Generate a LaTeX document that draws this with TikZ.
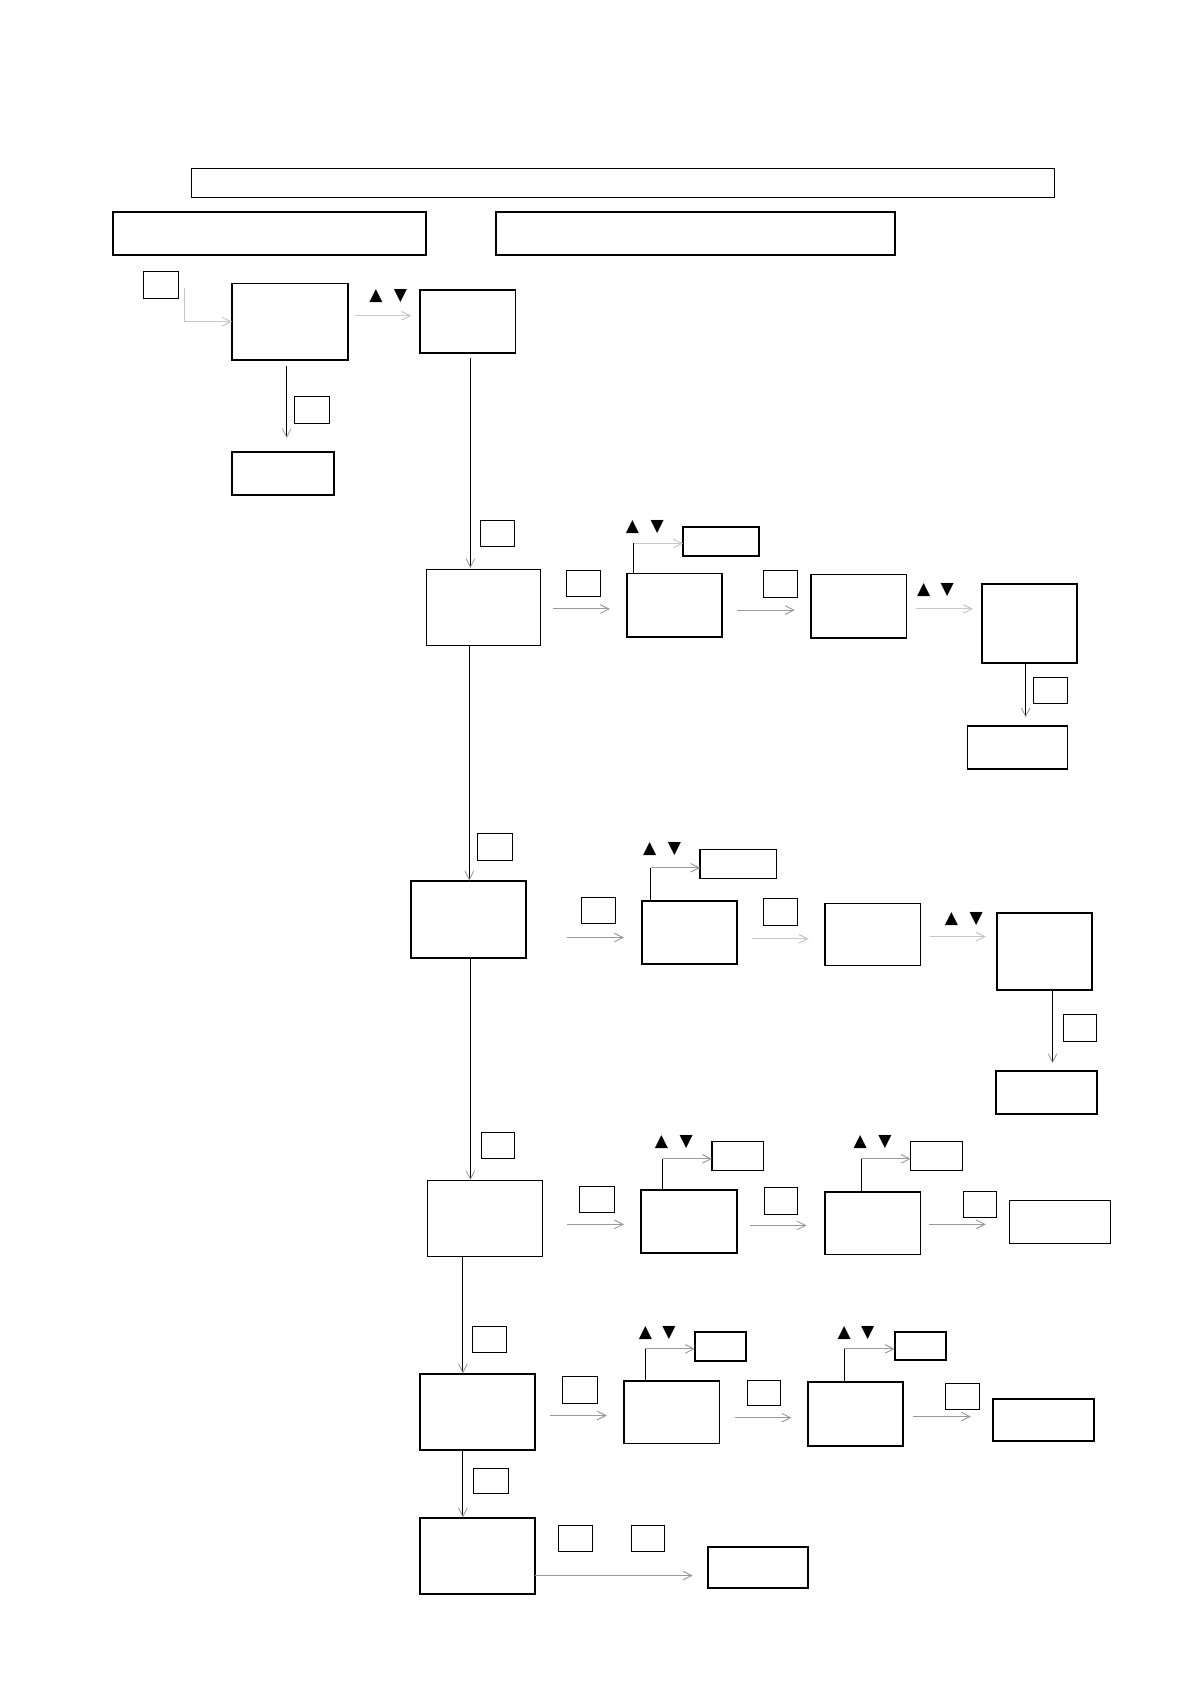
\documentclass[tikz,border=0pt]{standalone}
\usepackage{fontspec}
\newfontfamily\dvsans{DejaVu Sans}
\usetikzlibrary{arrows.meta}
\definecolor{hgray}{HTML}{9A9A9A}
\definecolor{lgray}{HTML}{C8C8C8}
\newcommand\mybox[6]{\node[#1, anchor=north west, minimum width={(#5-#3)*1pt}, minimum height={(#6-#4)*1pt}] (#2) at (#3,#4) {};}
\begin{document}
\begin{tikzpicture}[x=1pt,y=-1pt,
  bk/.style={draw, line width=1.8pt, inner sep=0pt, outer sep=0pt},
  bt/.style={draw, line width=1.3pt, inner sep=0pt, outer sep=0pt},
  sk/.style={draw, line width=0.9pt, inner sep=0pt, outer sep=0pt},
  vline/.style={draw=black, line width=0.8pt},
  varrow/.style={vline, -{Straight Barb[length=8pt,width=8pt,color=hgray]}},
  harrow/.style={draw=hgray, line width=0.9pt, -{Straight Barb[length=8pt,width=8pt]}},
  larrow/.style={draw=lgray, line width=1pt, -{Straight Barb[length=8pt,width=8pt]}},
  tri/.style={font=\dvsans\fontsize{16}{16}\selectfont, inner sep=0pt}]
\useasboundingbox (0,0) rectangle (1109,1568);
% headers
\mybox{sk}{top}{178}{157}{982}{184}
\mybox{bk}{H1}{105}{197}{397}{237}
\mybox{bk}{H2}{462}{197}{833}{237}
% row A
\mybox{sk}{s0}{134}{253}{166}{278}
\mybox{bk}{A1}{216}{264}{324}{335}
\mybox{bk}{A2}{391}{270}{480}{329}
\mybox{sk}{sA}{274}{369}{307}{394}
\mybox{bk}{A3}{216}{421}{311}{461}
% row B
\mybox{sk}{sB0}{447}{485}{479}{509}
\mybox{bt}{B1}{397}{530}{503}{601}
\mybox{sk}{sB1}{527}{531}{559}{555}
\mybox{bk}{B2}{584}{534}{672}{593}
\mybox{bk}{B2a}{636}{491}{707}{518}
\mybox{sk}{sB2}{711}{531}{743}{556}
\mybox{bt}{B3}{755}{535}{844}{594}
\mybox{bk}{B4}{914}{544}{1003}{617}
\mybox{sk}{sB4}{962}{631}{994}{655}
\mybox{bt}{B5}{901}{676}{994}{716}
% row C
\mybox{sk}{sC0}{445}{776}{477}{801}
\mybox{bk}{C1}{383}{820}{490}{892}
\mybox{sk}{sC1}{541}{836}{573}{860}
\mybox{bk}{C2}{598}{839}{686}{898}
\mybox{bk}{C2a}{652}{791}{723}{818}
\mybox{sk}{sC2}{711}{837}{743}{862}
\mybox{bt}{C3}{768}{841}{857}{899}
\mybox{bk}{C4}{928}{850}{1017}{922}
\mybox{sk}{sC4}{990}{945}{1021}{970}
\mybox{bk}{C5}{927}{997}{1021}{1037}
% row D
\mybox{sk}{sD0}{448}{1054}{479}{1079}
\mybox{bt}{D1}{398}{1099}{505}{1170}
\mybox{sk}{sD1}{540}{1105}{572}{1129}
\mybox{bk}{D2}{597}{1108}{686}{1167}
\mybox{bt}{D2a}{663}{1063}{711}{1090}
\mybox{sk}{sD2}{712}{1106}{743}{1131}
\mybox{bt}{D3}{768}{1110}{857}{1168}
\mybox{bt}{D3a}{848}{1063}{896}{1090}
\mybox{sk}{sD3}{897}{1109}{928}{1134}
\mybox{bt}{D4}{940}{1118}{1034}{1158}
% row E
\mybox{sk}{sE0}{440}{1235}{472}{1259}
\mybox{bk}{E1}{391}{1279}{498}{1350}
\mybox{sk}{sE1}{524}{1282}{556}{1307}
\mybox{bt}{E2}{581}{1286}{670}{1344}
\mybox{bk}{E2a}{647}{1240}{695}{1267}
\mybox{sk}{sE2}{696}{1285}{727}{1309}
\mybox{bk}{E3}{752}{1287}{841}{1346}
\mybox{bk}{E3a}{833}{1240}{881}{1266}
\mybox{sk}{sE3}{880}{1288}{912}{1312}
\mybox{bk}{E4}{925}{1303}{1019}{1342}
% row F
\mybox{sk}{sF0}{441}{1367}{473}{1391}
\mybox{bk}{F1}{391}{1413}{498}{1484}
\mybox{sk}{sF1}{520}{1420}{552}{1445}
\mybox{sk}{sF2}{588}{1420}{619}{1445}
\mybox{bk}{F2}{659}{1440}{752}{1479}
% triangles
\node[tri] (tA1) at (350,276) {▲}; \node[tri] (tA2) at (373,276) {▼};
\node[tri] (tB1) at (589,491) {▲}; \node[tri] (tB2) at (612,491) {▼};
\node[tri] (tB3) at (860,549) {▲}; \node[tri] (tB4) at (882,549) {▼};
\node[tri] (tC1) at (605,791) {▲}; \node[tri] (tC2) at (628,791) {▼};
\node[tri] (tC3) at (886,856) {▲}; \node[tri] (tC4) at (909,856) {▼};
\node[tri] (tD1) at (616,1063) {▲}; \node[tri] (tD2) at (639,1063) {▼};
\node[tri] (tD3) at (801,1063) {▲}; \node[tri] (tD4) at (824,1063) {▼};
\node[tri] (tE1) at (601,1241) {▲}; \node[tri] (tE2) at (623,1241) {▼};
\node[tri] (tE3) at (786,1241) {▲}; \node[tri] (tE4) at (808,1241) {▼};
% corner coordinates
\coordinate (p0) at (172,268);
\coordinate (cB) at (590,506);
\coordinate (cC) at (606,808);
\coordinate (cD2) at (617,1079);
\coordinate (cD3) at (802,1079);
\coordinate (cE2) at (601,1256);
\coordinate (cE3) at (786,1256);
% connectors row A
\draw[larrow] (p0) |- (A1.west);
\draw[larrow, shorten <=7pt, shorten >=8pt] (A1.east |- 0,294) -- (A2.west |- 0,294);
\draw[varrow, shorten <=6pt, shorten >=13pt] (A1.south -| 267,0) -- (A3.north -| 267,0);
\draw[varrow, shorten <=4pt, shorten >=1pt] (A2.south -| 438,0) -- (B1.north -| 438,0);
% row B
\draw[harrow, shorten <=12pt, shorten >=16pt] (B1.east |- 0,567) -- (B2.west |- 0,567);
\draw[vline] (B2.north -| cB) -- (cB);
\draw[larrow] (cB) -- (B2a.west |- cB);
\draw[harrow, shorten <=14pt, shorten >=15pt] (B2.east |- 0,568) -- (B3.west |- 0,568);
\draw[larrow, shorten <=9pt, shorten >=8pt] (B3.east |- 0,567) -- (B4.west |- 0,567);
\draw[varrow, shorten >=8pt] (B4.south -| 955,0) -- (B5.north -| 955,0);
\draw[varrow] (B1.south -| 437,0) -- (C1.north -| 437,0);
% row C
\draw[harrow, shorten <=38pt, shorten >=17pt] (C1.east |- 0,873) -- (C2.west |- 0,873);
\draw[vline] (C2.north -| cC) -- (cC);
\draw[harrow] (cC) -- (C2a.west |- cC);
\draw[larrow, shorten <=14pt, shorten >=15pt] (C2.east |- 0,874) -- (C3.west |- 0,874);
\draw[larrow, shorten <=9pt, shorten >=10pt] (C3.east |- 0,872) -- (C4.west |- 0,872);
\draw[varrow, shorten >=7pt] (C4.south -| 980,0) -- (C5.north -| 980,0);
\draw[varrow] (C1.south -| 438,0) -- (D1.north -| 438,0);
% row D
\draw[harrow, shorten <=23pt, shorten >=16pt] (D1.east |- 0,1140) -- (D2.west |- 0,1140);
\draw[vline] (D2.north -| cD2) -- (cD2);
\draw[harrow] (cD2) -- (D2a.west |- cD2);
\draw[harrow, shorten <=12pt, shorten >=17pt] (D2.east |- 0,1141) -- (D3.west |- 0,1141);
\draw[vline] (D3.north -| cD3) -- (cD3);
\draw[harrow] (cD3) -- (D3a.west |- cD3);
\draw[harrow, shorten <=8pt, shorten >=22pt] (D3.east |- 0,1140) -- (D4.west |- 0,1140);
\draw[varrow] (D1.south -| 431,0) -- (E1.north -| 431,0);
% row E
\draw[harrow, shorten <=14pt, shorten >=16pt] (E1.east |- 0,1318) -- (E2.west |- 0,1318);
\draw[vline] (E2.north -| cE2) -- (cE2);
\draw[harrow] (cE2) -- (E2a.west |- cE2);
\draw[harrow, shorten <=14pt, shorten >=15pt] (E2.east |- 0,1320) -- (E3.west |- 0,1320);
\draw[vline] (E3.north -| cE3) -- (cE3);
\draw[harrow] (cE3) -- (E3a.west |- cE3);
\draw[harrow, shorten <=9pt, shorten >=21pt] (E3.east |- 0,1319) -- (E4.west |- 0,1319);
\draw[varrow] (E1.south -| 431,0) -- (F1.north -| 431,0);
% row F
\draw[harrow, shorten >=14pt] (F1.east |- 0,1467) -- (F2.west |- 0,1467);
\end{tikzpicture}
\end{document}
